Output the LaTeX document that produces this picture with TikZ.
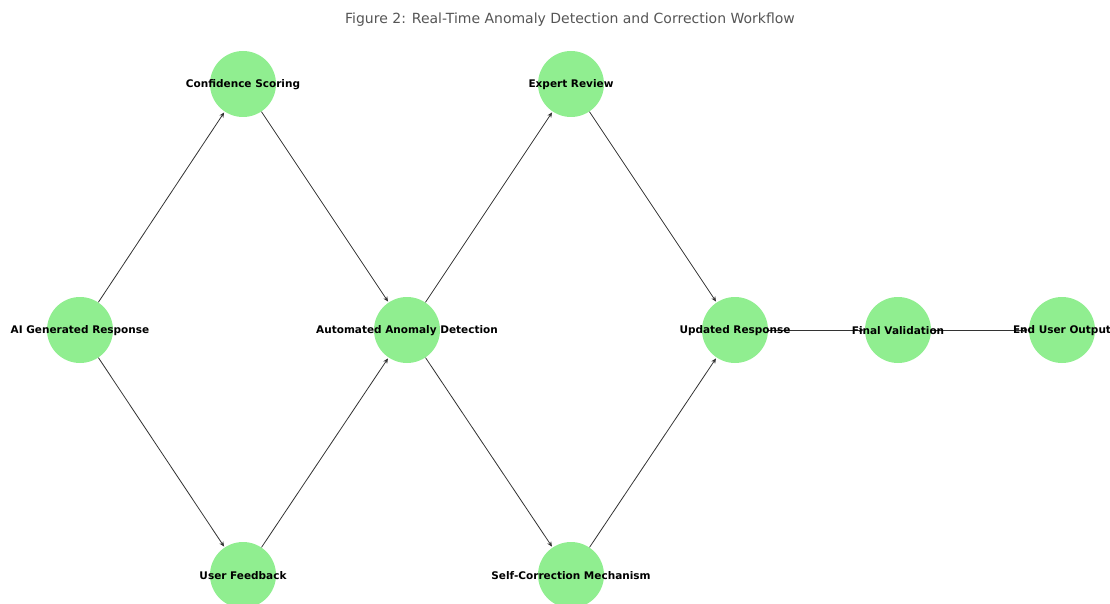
\documentclass[tikz,border=0pt]{standalone}
\usepackage{fontspec}
\setmainfont{DejaVu Sans}
\usetikzlibrary{arrows.meta}
\pgfdeclarelayer{background}
\pgfsetlayers{background,main}
\definecolor{nodegreen}{HTML}{90EE90}
\definecolor{titlegray}{HTML}{555555}
\tikzset{
  flownode/.style={circle, fill=nodegreen, minimum size=66pt, inner sep=0pt},
  flowlabel/.style={font=\fontsize{10.5}{12}\selectfont\bfseries, text=black, inner sep=0pt},
  flowedge/.style={draw=black!80, line width=0.8pt, -{Stealth[length=5pt,width=4.5pt]}, shorten >=1pt}
}
\begin{document}
\begin{tikzpicture}[x=1pt,y=-1pt]
\useasboundingbox (0,0) rectangle (1110,604);
\node[font=\fontsize{14}{16}\selectfont, text=titlegray] (title) at (570,20) {Figure 2: Real-Time Anomaly Detection and Correction Workflow};
\node[flownode] (ai) at (80,330) {};
\node[flownode] (cs) at (243,84) {};
\node[flownode] (uf) at (243,575) {};
\node[flownode] (aad) at (407,330) {};
\node[flownode] (er) at (571,84) {};
\node[flownode] (sc) at (571,575) {};
\node[flownode] (ur) at (735,330) {};
\node[flownode] (fv) at (898,330) {};
\node[flownode] (eu) at (1062,330) {};
\begin{pgfonlayer}{background}
\draw[flowedge] (ai) -- (cs);
\draw[flowedge] (ai) -- (uf);
\draw[flowedge] (cs) -- (aad);
\draw[flowedge] (uf) -- (aad);
\draw[flowedge] (aad) -- (er);
\draw[flowedge] (aad) -- (sc);
\draw[flowedge] (er) -- (ur);
\draw[flowedge] (sc) -- (ur);
\draw[flowedge] (ur) -- (fv);
\draw[flowedge] (fv) -- (eu);
\end{pgfonlayer}
\node[flowlabel] (ai-t) at (80,331) {AI Generated Response};
\node[flowlabel] (cs-t) at (243,85) {Confidence Scoring};
\node[flowlabel] (uf-t) at (243,576) {User Feedback};
\node[flowlabel] (aad-t) at (407,331) {Automated Anomaly Detection};
\node[flowlabel] (er-t) at (571,85) {Expert Review};
\node[flowlabel] (sc-t) at (571,576) {Self-Correction Mechanism};
\node[flowlabel] (ur-t) at (735,331) {Updated Response};
\node[flowlabel] (fv-t) at (898,331) {Final Validation};
\node[flowlabel] (eu-t) at (1062,331) {End User Output};
\end{tikzpicture}
\end{document}
